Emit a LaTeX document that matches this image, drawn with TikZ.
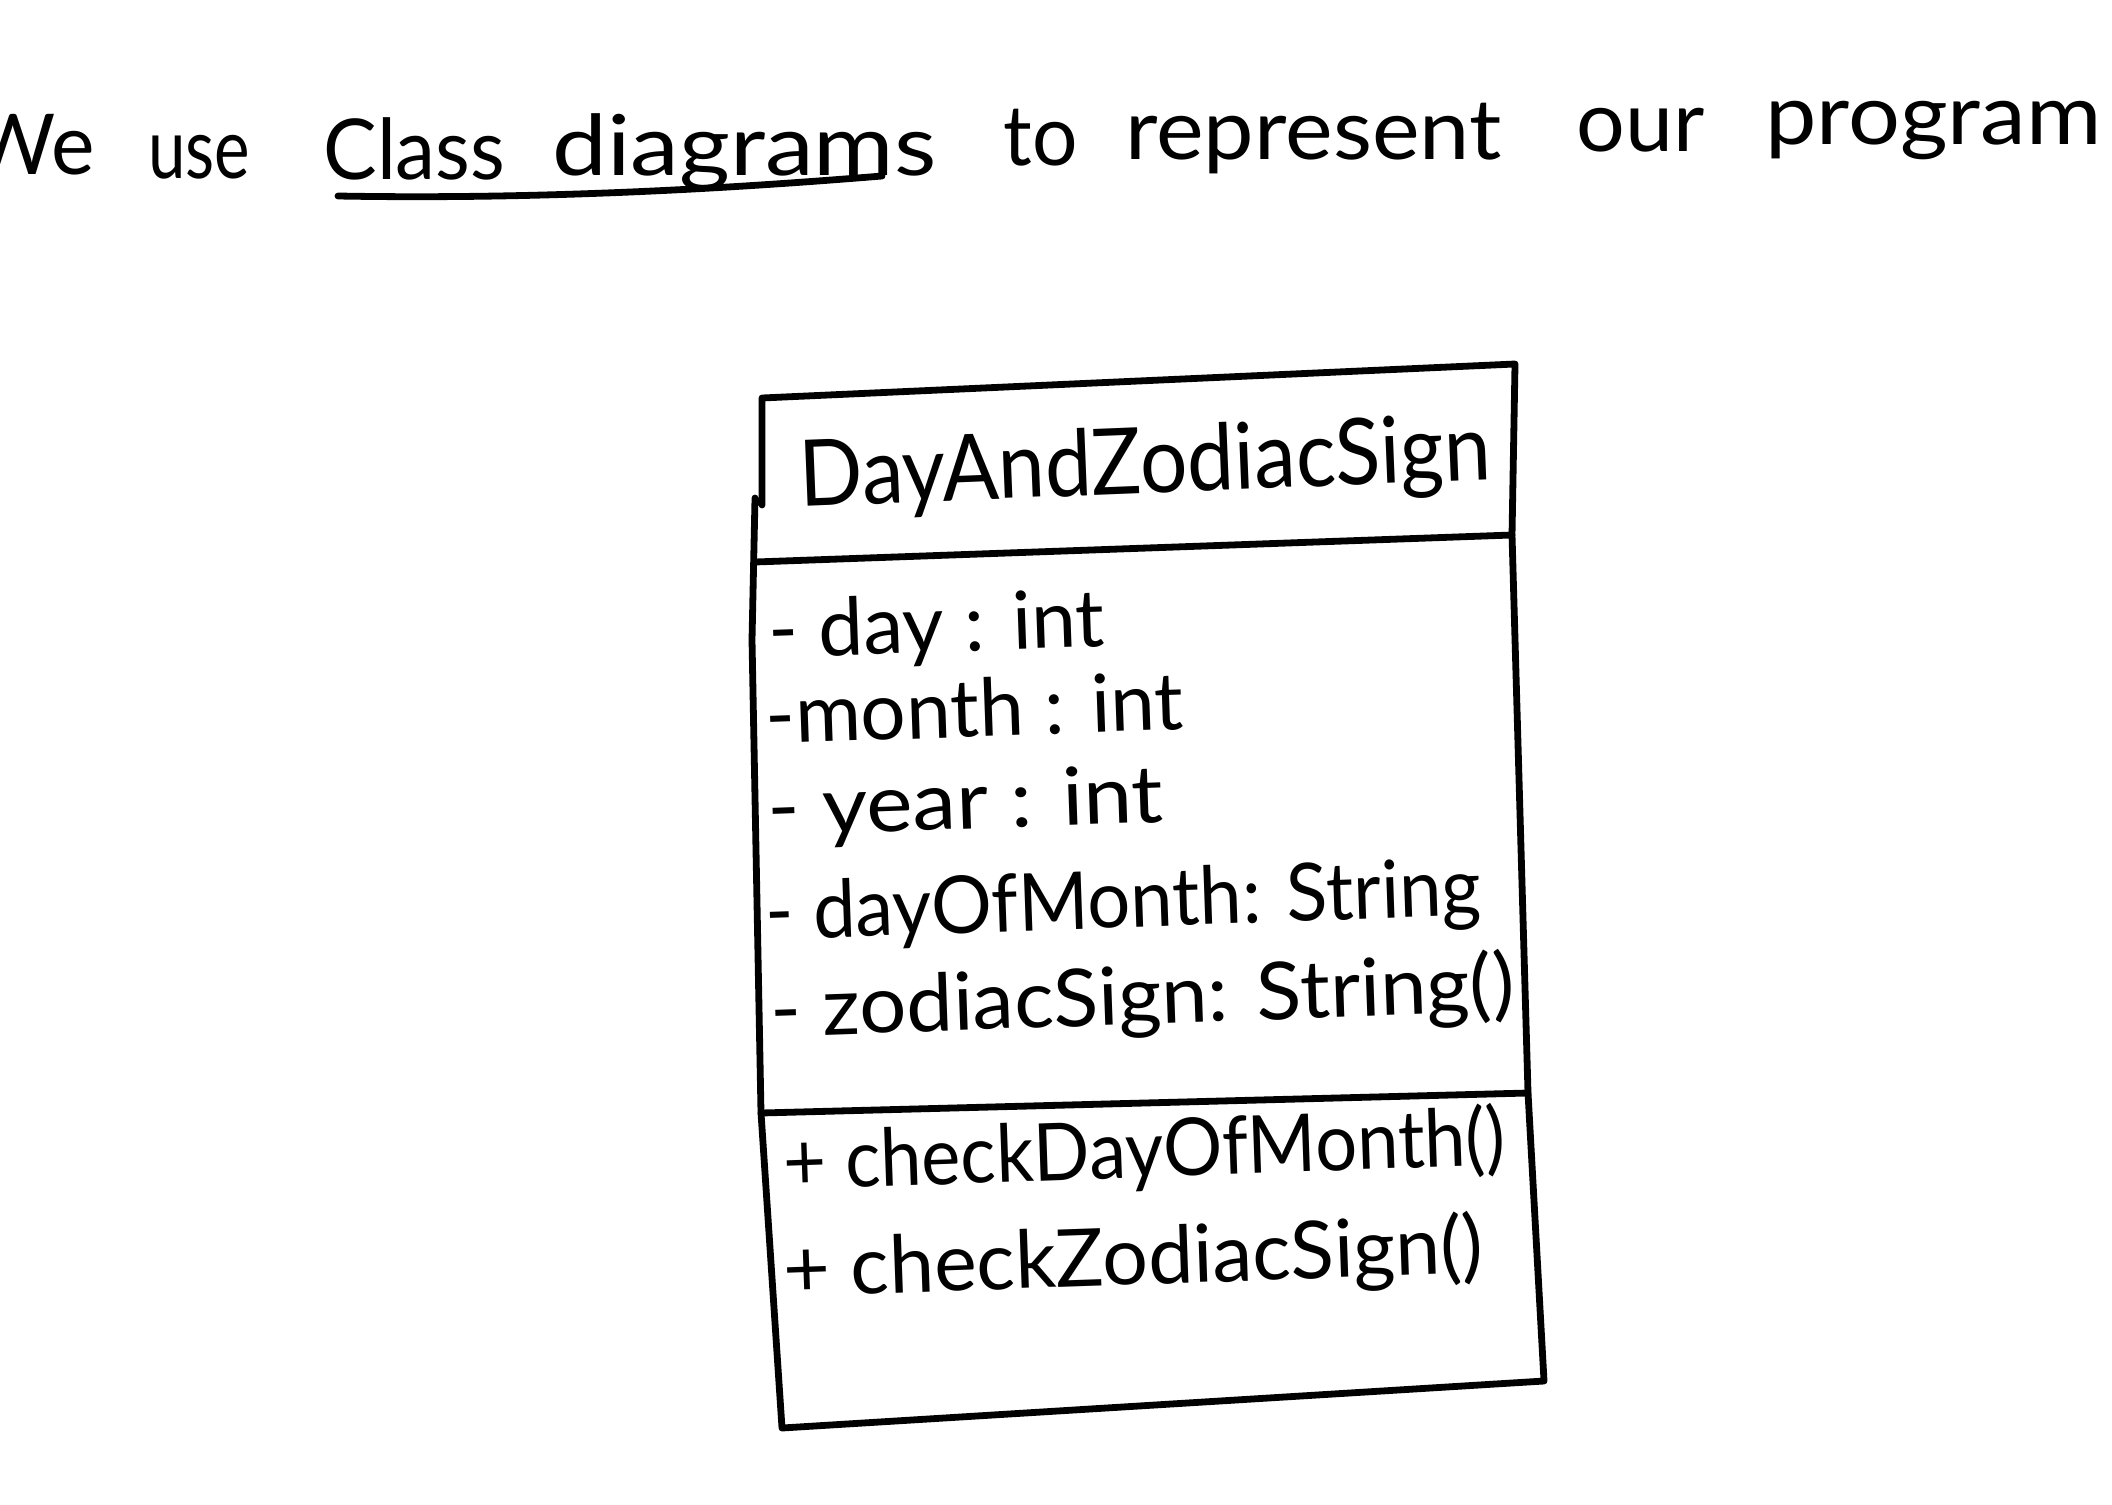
\documentclass[tikz,border=0pt]{standalone}
\usepackage{fontspec}
\setmainfont{Lato}
% scale a text horizontally so that it is exactly #1 wide
\newcommand\fitwidth[2]{\sbox0{#2}\pgfmathsetmacro\fitfac{#1/\the\wd0}\scalebox{\fitfac}[1]{\usebox0}}
\begin{document}
\begin{tikzpicture}[x=0.5pt,y=-0.5pt,
  heading/.style={anchor=base west, inner sep=0pt, font=\fontsize{42}{50}\selectfont},
  member/.style={anchor=base west, inner sep=0pt, rotate=2, font=\fontsize{40}{48}\selectfont},
  classname/.style={anchor=base west, inner sep=0pt, rotate=2.3, font=\fontsize{46}{54}\selectfont},
  outline/.style={line width=3.4pt, line join=round, line cap=round}]
\fill[white] (0,0) rectangle (2112,1504);
\useasboundingbox (0,0) rectangle (2112,1504);

% heading line
\node[heading] (w1) at (-30,174) {\fitwidth{62pt}{We}};
\node[heading] (w2) at (148,178) {\fitwidth{51pt}{use}};
\node[heading] (w3) at (323,179) {\fitwidth{91pt}{Class}};
\node[heading] (w4) at (552,175) {\fitwidth{192pt}{diagrams}};
\node[heading] (w5) at (1003,165) {\fitwidth{37pt}{to}};
\node[heading] (w6) at (1125,159) {\fitwidth{188pt}{represent}};
\node[heading] (w7) at (1576,151) {\fitwidth{64pt}{our}};
\node[heading] (w8) at (1765,144) {\fitwidth{168pt}{program}};
\coordinate (ul1) at (338,196);
\coordinate (ul2) at (882,176);
\draw[outline] (ul1) .. controls (560,200) and (760,186) .. (ul2);

% class box
\coordinate (lb1) at (762,505);
\coordinate (lb2) at (755,498);
\coordinate (lm) at (752,640);
\coordinate (tl) at (762,398);
\coordinate (tr) at (1515,364);
\coordinate (d1l) at (755,562);
\coordinate (d1r) at (1512,535);
\coordinate (d2l) at (761,1113);
\coordinate (d2r) at (1528,1093);
\coordinate (bl) at (782,1428);
\coordinate (br) at (1544,1381);
\draw[outline] (lb1) -- (tl) -- (tr) -- (d1r) -- (d2r) -- (br) -- (bl) -- (d2l) -- (lm) -- (lb2);
\draw[outline] (d1l) -- (d1r);
\draw[outline] (d2l) -- (d2r);

% class name
\node[classname] (name) at (800,507) {\fitwidth{346pt}{DayAndZodiacSign}};

% attributes
\node[member] (a1) at (769,658) {\fitwidth{168pt}{- day : int}};
\node[member] (a2) at (766,744) {\fitwidth{209pt}{-month : int}};
\node[member] (a3) at (768,836) {\fitwidth{198pt}{- year : int}};
\node[member] (a4) at (766,940) {\fitwidth{358pt}{- dayOfMonth: String}};
\node[member] (a5) at (771,1037) {\fitwidth{372pt}{- zodiacSign: String()}};

% operations
\node[member] (m1) at (784,1190) {\fitwidth{361pt}{+ checkDayOfMonth()}};
\node[member] (m2) at (784,1297) {\fitwidth{350pt}{+ checkZodiacSign()}};
\end{tikzpicture}
\end{document}
